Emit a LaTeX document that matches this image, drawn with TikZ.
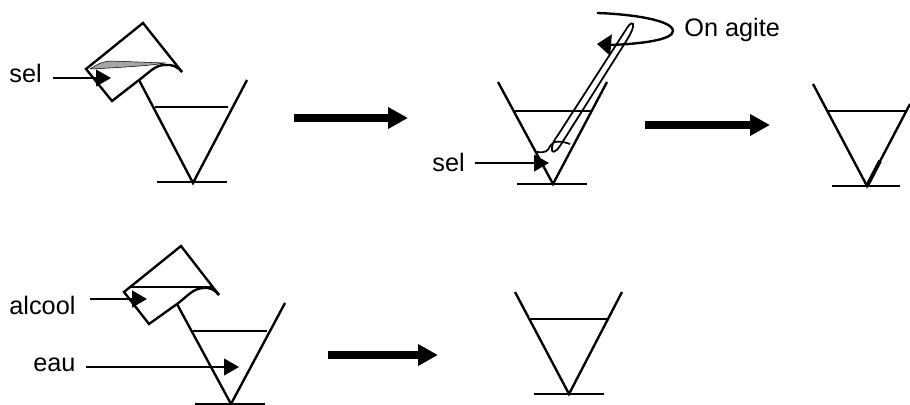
\documentclass[tikz,border=0pt]{standalone}
\usepackage{fontspec}
\setmainfont{Liberation Sans}
\usetikzlibrary{arrows.meta}
\tikzset{
  trait/.style={line width=1.35pt,line join=miter},
  fin/.style={line width=1pt},
  fleche/.style={line width=1.1pt,-{Triangle[length=8.5pt,width=9.5pt]}},
  grande/.style={line width=4.4pt,-{Triangle[length=11.3pt,width=11.6pt]}},
  texte/.style={font=\fontsize{14.4pt}{16pt}\selectfont,inner sep=0pt,anchor=base west}
}
\begin{document}
\begin{tikzpicture}[x=0.02cm,y=-0.02cm]
\useasboundingbox (0,0) rectangle (910,405);
% premier verre
\draw[trait] (139,80) -- (193,183) -- (247,80);
\draw[trait] (157,182) -- (227,182);
\draw[fin] (155,107) -- (228,107);
\draw[trait] (139,80) -- (112,101) -- (86,69) -- (143,23) -- (182,72);
\draw[trait] (139,80) .. controls (150,72) and (155,65) .. (165,65) .. controls (172,64) and (178,67) .. (182,72);
\fill[gray!70,draw=black,line width=0.3pt] (90,69) .. controls (95,66) and (100,62) .. (110,61) -- (165,63) .. controls (150,66) and (110,68) .. (90,69);
\node[texte] (sel1) at (9,83) {sel};
\coordinate (psel1) at (111,78);
\draw[fleche,shorten <=6pt] (sel1.east |- psel1) -- (psel1);
\coordinate (g1) at (294,118);
\coordinate (d1) at (408,118);
\draw[grande] (g1) -- (d1);
% deuxieme verre
\draw[trait] (498,82) -- (553,184) -- (607,82);
\draw[trait] (517,184) -- (587,184);
\draw[fin] (515,111) -- (592,111);
\draw[fin] (627,28) .. controls (630,23) and (634,21) .. (633,27) .. controls (632,32) and (628,38) .. (625,43) -- (560,146) .. controls (555,153) and (551,154) .. (552,147) .. controls (553,142) and (555,139) .. (558,135) -- (627,28);
\draw[fin] (537,152) .. controls (546,153) and (548,151) .. (550,146) .. controls (553,140) and (562,141) .. (570,144);
\draw[trait] (597,13) .. controls (630,14) and (673,20) .. (673,31) .. controls (673,40) and (640,44) .. (610,45);
\coordinate (c1) at (610,45);
\coordinate (c2) at (597,44);
\draw[-{Triangle[length=8pt,width=12pt]},line width=1pt] (c1) -- (c2);
\node[texte] (agite) at (684,37) {On agite};
\node[texte] (sel2) at (432,172) {sel};
\coordinate (psel2) at (549,163);
\draw[fleche,shorten <=5.5pt] (sel2.east |- psel2) -- (psel2);
\coordinate (g2) at (645,125);
\coordinate (d2) at (770,125);
\draw[grande] (g2) -- (d2);
% troisieme verre
\draw[trait] (813,84) -- (867,186) -- (910,104);
\draw[trait,line width=2.2pt] (867,186) -- (880,161);
\draw[trait] (832,186) -- (900,186);
\draw[fin] (827,111) -- (907,111);
% quatrieme verre
\draw[trait] (177,304) -- (231,404) -- (285,303);
\draw[trait] (195,404) -- (265,404);
\draw[fin] (193,331) -- (267,331);
\draw[trait] (177,304) -- (149,324) -- (124,292) -- (181,246) -- (219,295);
\draw[trait] (177,304) .. controls (188,296) and (192,289) .. (203,288) .. controls (210,287) and (215,290) .. (219,295);
\draw[fin] (130,287) -- (212,287);
\node[texte] (alcool) at (9,315) {alcool};
\coordinate (palcool) at (147,299);
\draw[fleche,line width=1.4pt,shorten <=8pt] (alcool.east |- palcool) -- (palcool);
\node[texte] (eau) at (33,372) {eau};
\coordinate (peau) at (239,367);
\draw[fleche,shorten <=6pt] (eau.east |- peau) -- (peau);
\coordinate (g3) at (328,355);
\coordinate (d3) at (438,355);
\draw[grande] (g3) -- (d3);
% cinquieme verre
\draw[trait] (515,292) -- (569,394) -- (622,292);
\draw[trait] (534,394) -- (604,394);
\draw[fin] (530,319) -- (608,319);
\end{tikzpicture}
\end{document}
